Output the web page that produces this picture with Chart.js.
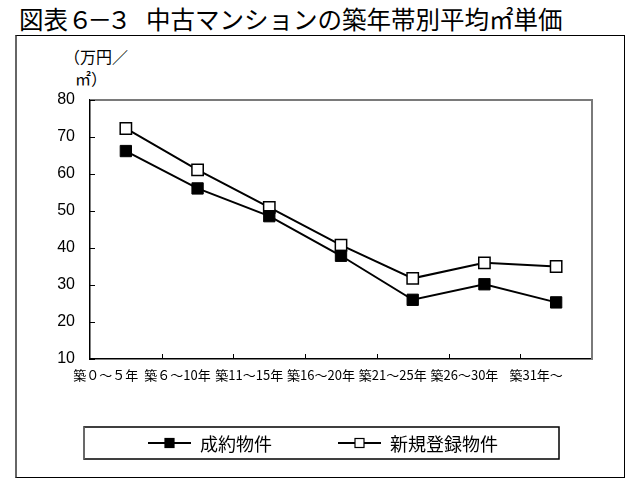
<!DOCTYPE html>
<html lang="ja">
<head>
<meta charset="utf-8">
<title>中古マンションの築年帯別平均㎡単価</title>
<script src="https://cdn.jsdelivr.net/npm/chart.js@4"></script>
<style>
  html, body { margin: 0; padding: 0; background: #fff; }
  #wrap { position: relative; width: 637px; height: 488px; overflow: hidden; }
  #frame {
    position: absolute; left: 15px; top: 35px; width: 607px; height: 441px;
    border: 1px solid #000; border-left: 2px solid #666;
  }
  #title {
    position: absolute; left: 19px; top: 4px; font-family: "Noto Sans CJK JP", sans-serif;
    font-size: 24.5px; line-height: 30px; color: #000; white-space: nowrap;
  }
  #title .num { letter-spacing: -5px; }
  #unit {
    position: absolute; left: 64px; top: 45px; font-family: "Noto Sans CJK JP", sans-serif;
    font-size: 16px; line-height: 22px; color: #000;
  }
  #unit span { display: block; }
  #chart { position: absolute; left: 0; top: 0; }
</style>
</head>
<body>
<div id="wrap">
  <div id="frame"></div>
  <div id="title">図表<span class="num">６－３　</span>中古マンションの築年帯別平均㎡単価</div>
  <div id="unit"><span>（万円／</span><span style="padding-left:11px">㎡）</span></div>
  <canvas id="chart" width="637" height="488"></canvas>
</div>
<script>
  // Data
  const categories = ["築０～５年", "築６～10年", "築11～15年", "築16～20年", "築21～25年", "築26～30年", "築31年～"];
  const contracted = [66.2, 56.1, 48.6, 37.9, 26.0, 30.2, 25.3];   // 成約物件
  const newListings = [72.3, 61.1, 51.0, 40.8, 31.8, 36.0, 35.0];  // 新規登録物件
  const yTicks = [10, 20, 30, 40, 50, 60, 70, 80];

  const FONT_NUM = "Liberation Sans";
  const FONT_JP = "Noto Sans CJK JP";

  // inward ticks, gray plot border on top/right, and a boxed legend at the bottom
  const decorPlugin = {
    id: "decor",
    afterDraw(chart) {
      const ctx = chart.ctx;
      const area = chart.chartArea;
      const x = chart.scales.x, y = chart.scales.y;
      ctx.save();

      ctx.strokeStyle = "#7a7a7a";
      ctx.lineWidth = 2;
      ctx.beginPath();
      ctx.moveTo(area.left, area.top);
      ctx.lineTo(area.right, area.top);
      ctx.lineTo(area.right, area.bottom);
      ctx.stroke();

      ctx.strokeStyle = "#000";
      ctx.lineWidth = 1;
      yTicks.forEach(v => {
        const py = Math.round(y.getPixelForValue(v)) + 0.5;
        ctx.beginPath();
        ctx.moveTo(area.left, py);
        ctx.lineTo(area.left + 5, py);
        ctx.stroke();
      });
      for (let i = 0; i < categories.length - 1; i++) {
        const px = Math.round((x.getPixelForValue(i) + x.getPixelForValue(i + 1)) / 2) + 0.5;
        ctx.beginPath();
        ctx.moveTo(px, area.bottom);
        ctx.lineTo(px, area.bottom - 5);
        ctx.stroke();
      }

      // legend box
      const bx = 84, by = 427, bw = 475, bh = 32;
      ctx.lineWidth = 1.5;
      ctx.strokeStyle = "#000";
      ctx.strokeRect(bx, by, bw, bh);
      ctx.strokeStyle = "#777";
      ctx.beginPath();
      ctx.moveTo(bx, by);
      ctx.lineTo(bx, by + bh);
      ctx.stroke();

      const cy = by + bh / 2;
      const starts = [148, 338];
      chart.data.datasets.forEach((ds, i) => {
        const sx = starts[i];
        ctx.strokeStyle = "#000";
        ctx.lineWidth = 2;
        ctx.beginPath();
        ctx.moveTo(sx, cy);
        ctx.lineTo(sx + 43, cy);
        ctx.stroke();
        ctx.fillStyle = ds.pointBackgroundColor;
        ctx.fillRect(sx + 17, cy - 4.5, 9, 9);
        ctx.lineWidth = 1.2;
        ctx.strokeRect(sx + 17, cy - 4.5, 9, 9);
        ctx.fillStyle = "#000";
        ctx.font = "18px '" + FONT_JP + "'";
        ctx.textBaseline = "middle";
        ctx.textAlign = "left";
        ctx.fillText(ds.label, sx + 52, cy + 1);
      });
      ctx.restore();
    }
  };

  new Chart(document.getElementById("chart"), {
    type: "line",
    data: {
      labels: categories,
      datasets: [
        {
          label: "成約物件",
          data: contracted,
          borderColor: "#000",
          borderWidth: 2,
          pointStyle: "rect",
          pointRadius: 8,
          pointBorderWidth: 1,
          pointBackgroundColor: "#000",
          pointBorderColor: "#000",
          tension: 0
        },
        {
          label: "新規登録物件",
          data: newListings,
          borderColor: "#000",
          borderWidth: 2,
          pointStyle: "rect",
          pointRadius: 8,
          pointBorderWidth: 1.5,
          pointBackgroundColor: "#fff",
          pointBorderColor: "#000",
          tension: 0
        }
      ]
    },
    options: {
      responsive: false,
      animation: false,
      layout: { padding: { left: 0, top: 100, right: 45, bottom: 0 } },
      plugins: { legend: { display: false }, tooltip: { enabled: false }, title: { display: false } },
      scales: {
        x: {
          offset: true,
          grid: { display: false, drawTicks: false },
          border: { display: true, color: "#000", width: 1.5 },
          ticks: {
            color: "#000",
            font: { family: FONT_JP, size: 13 },
            padding: 8,
            maxRotation: 0,
            autoSkip: false,
            labelOffset: -20
          },
          afterFit(scale) { scale.height = 129; }
        },
        y: {
          min: 10,
          max: 80,
          grid: { display: false, drawTicks: false },
          border: { display: true, color: "#000", width: 1.5 },
          ticks: {
            stepSize: 10,
            color: "#000",
            font: { family: FONT_NUM, size: 16 },
            padding: 15
          },
          afterFit(scale) { scale.width = 90; }
        }
      }
    },
    plugins: [decorPlugin]
  });
</script>
</body>
</html>
